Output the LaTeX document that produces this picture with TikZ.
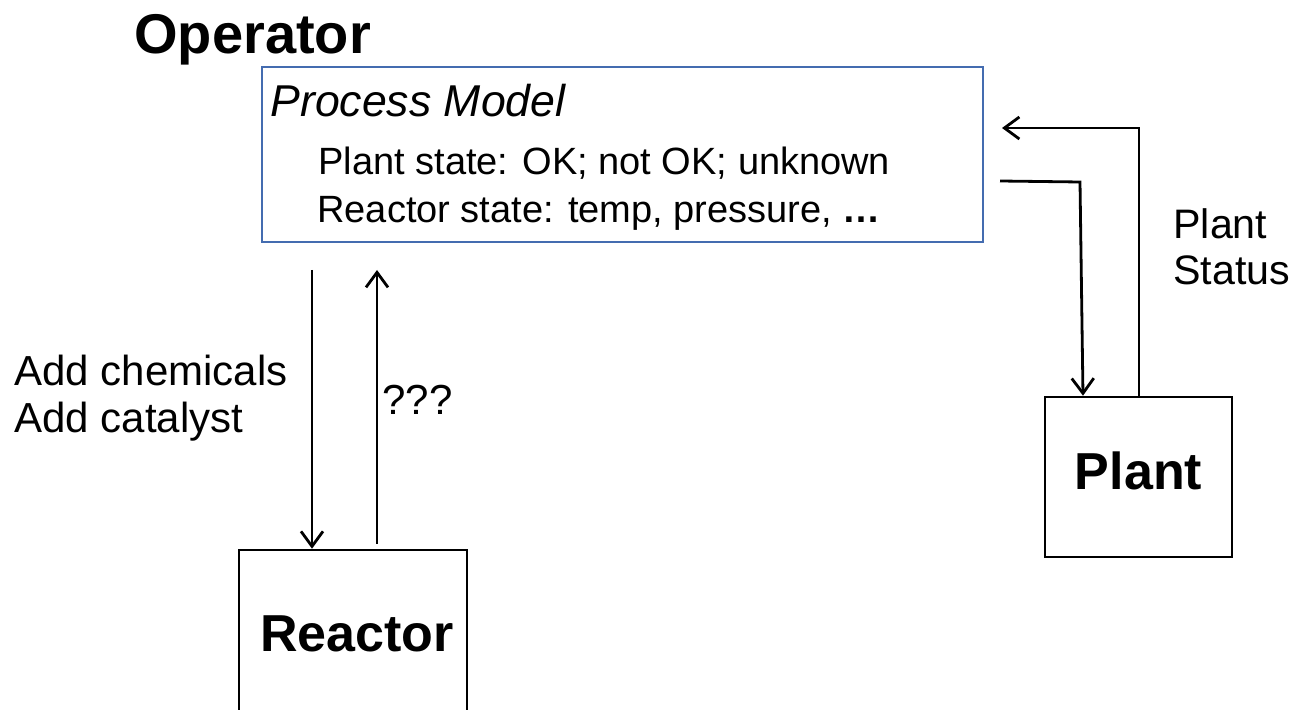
\documentclass[tikz,border=0pt]{standalone}
\usepackage{fontspec}
\setmainfont{Liberation Sans}
\usetikzlibrary{arrows.meta}
\definecolor{modelblue}{RGB}{68,108,176}

\begin{document}
\begin{tikzpicture}[x=0.5pt,y=-0.5pt,
    flow/.style={line width=1.4pt, -{Straight Barb[length=7.5pt,width=11pt]}},
    unitbox/.style={draw, line width=1.3pt, rectangle, inner sep=0pt},
    unitname/.style={inner sep=0pt, font=\fontsize{26}{30}\selectfont\bfseries},
    lbl/.style={inner sep=0pt, anchor=west, align=left}]
  \useasboundingbox (0,0) rectangle (1295,710);

  % Controller
  \node[lbl, font=\fontsize{28}{32}\selectfont\bfseries] (op) at (134,40) {Operator};
  \node[draw=modelblue, line width=1.3pt, rectangle, minimum width=360.5pt,
        minimum height=87.5pt, inner sep=0pt] (pm) at (622.5,154.5) {};

  % Process model contents
  \node[lbl, font=\fontsize{22.3}{26}\selectfont\itshape] (pmtitle) at (270,101) {Process Model};
  \node[lbl, font=\fontsize{19}{22}\selectfont] (plantstate) at (318,163)
    {Plant state: OK; not OK; unknown};
  \node[lbl, font=\fontsize{19}{22}\selectfont] (reactstate) at (317,213)
    {Reactor state: temp, pressure, \textbf{\dots}};

  % Controlled processes
  \node[unitbox, minimum width=114pt, minimum height=83pt] (reactor) at (353,633) {};
  \node[unitname] (reactorname) at (357,634) {Reactor};
  \node[unitbox, minimum width=93.5pt, minimum height=80pt] (plant) at (1138.5,477) {};
  \node[unitname] (plantname) at (1138.5,471) {Plant};

  % Reactor loop
  \coordinate (cmdtop) at (312,270);
  \coordinate (fbtop) at (377,270);
  \draw[flow] (cmdtop) -- (cmdtop |- reactor.north);
  \draw[flow] ([yshift=2.5pt]fbtop |- reactor.north) -- (fbtop);

  % Plant loop
  \coordinate (ctlstart) at (1000,181);
  \coordinate (ctlcorner) at (1080,182);
  \coordinate (statcorner) at (1139,128);
  \coordinate (statend) at (1002,128);
  \draw[flow] (ctlstart) -- (ctlcorner) -- ([xshift=1.5pt]ctlcorner |- plant.north);
  \draw[flow] (statcorner |- plant.north) -- (statcorner) -- (statend);

  % Labels
  \node[lbl, font=\fontsize{21}{23.5}\selectfont] (cmds) at (14,398)
    {Add chemicals\\Add catalyst};
  \node[lbl, font=\fontsize{21}{24}\selectfont] (fb) at (382,400) {???};
  \node[lbl, font=\fontsize{20.6}{23}\selectfont] (status) at (1173,247)
    {Plant\\Status};
\end{tikzpicture}
\end{document}
